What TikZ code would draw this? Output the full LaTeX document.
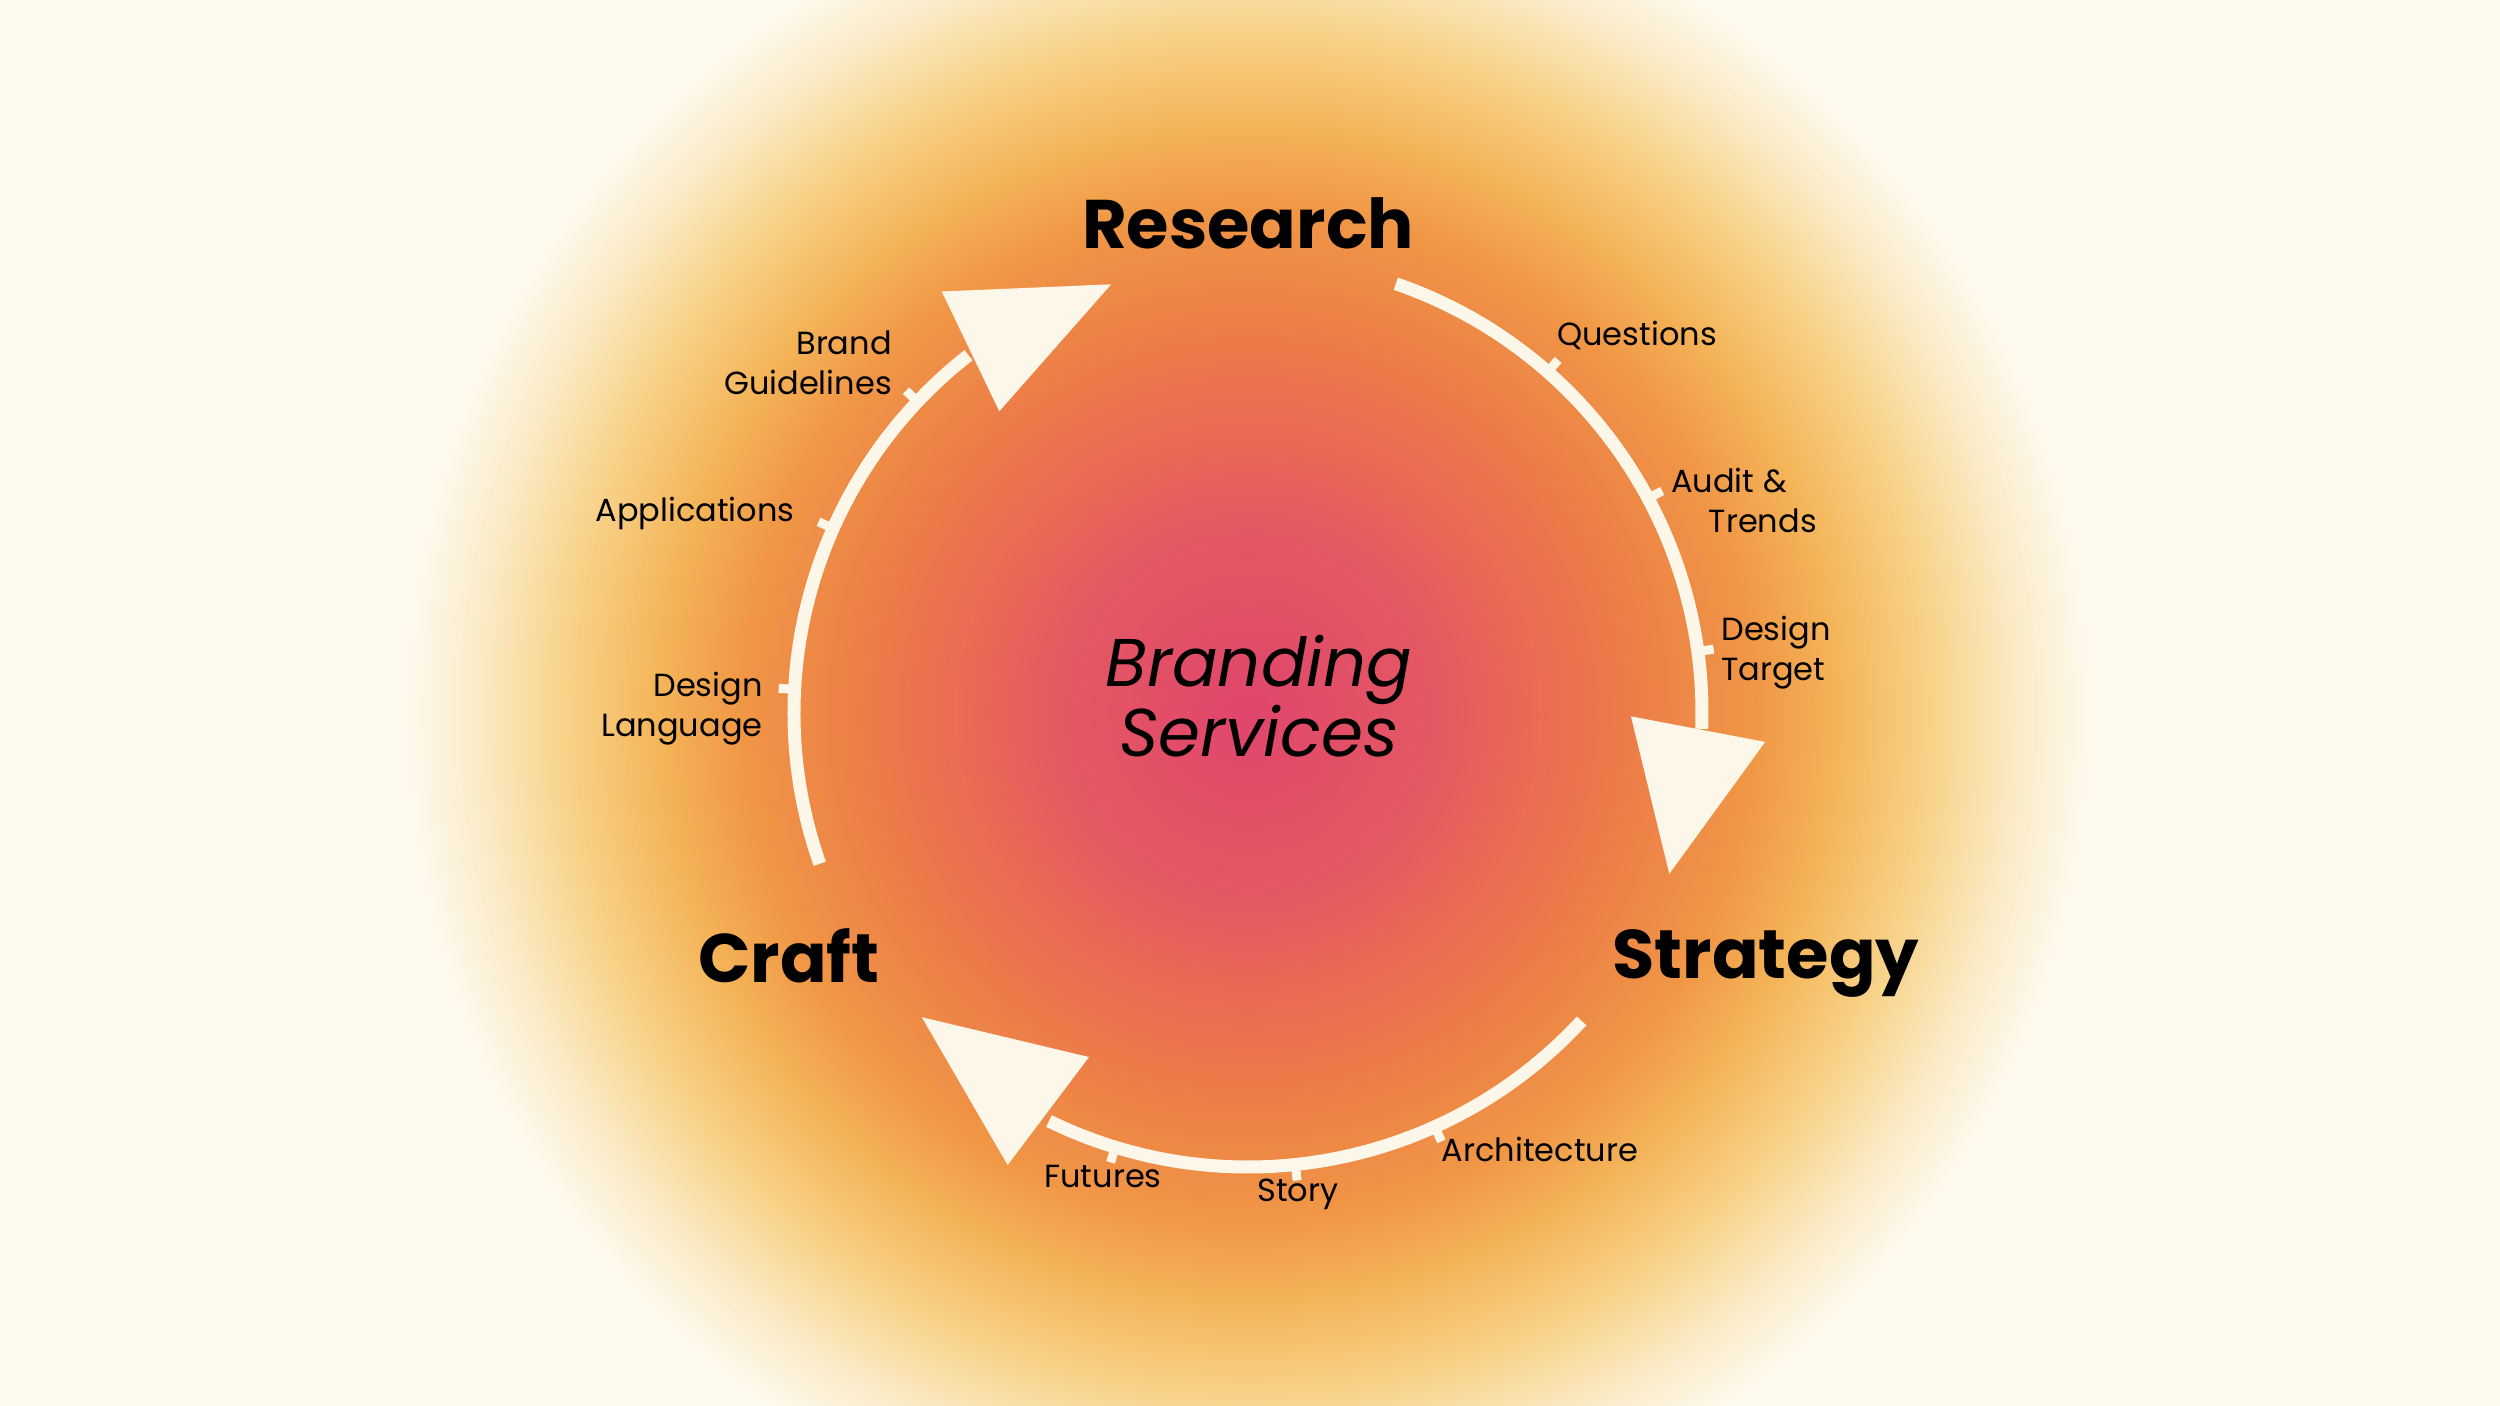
\documentclass[tikz,border=0pt]{standalone}
\usepackage{fontspec}
\setmainfont{Poppins}[BoldFont={Poppins Bold},ItalicFont={Poppins Italic}]
\definecolor{bg}{HTML}{FDF9EC}
\definecolor{cream}{HTML}{FCF7E8}
\definecolor{g0}{HTML}{E0466C}
\definecolor{g1}{HTML}{E45862}
\definecolor{g2}{HTML}{EC7A48}
\definecolor{g3}{HTML}{F09645}
\definecolor{g4}{HTML}{F4B458}
\definecolor{g5}{HTML}{F8D48C}
\definecolor{g6}{HTML}{FBEBC8}
\pgfdeclareradialshading{glow}{\pgfpoint{0bp}{0bp}}{color(0bp)=(g0); color(5.5bp)=(g1); color(11bp)=(g2); color(15bp)=(g3); color(17.5bp)=(g4); color(20.5bp)=(g5); color(23bp)=(g6); color(25bp)=(bg); color(50bp)=(bg)}
\begin{document}
\begin{tikzpicture}[x=0.4pt,y=0.4pt,
  shaft/.style={draw=cream,line width=5.2pt},
  tick/.style={draw=cream,line width=3.6pt},
  head/.style={fill=cream},
  big/.style={font=\fontsize{27.5}{30}\selectfont\bfseries},
  lab/.style={font=\fontsize{12.8}{16}\selectfont,align=#1},
  lab/.default=center]
\fill[bg] (-1248,-693) rectangle (1252,713);
\useasboundingbox (-1248,-693) rectangle (1252,713);
\shade[shading=glow] (0,0) circle (840);
% arcs
\draw[shaft] (71:454) arc (71:-2:454);
\draw[shaft] (-42.7:454) arc (-42.7:-116:454);
\draw[shaft] (199.4:454) arc (199.4:128:454);
% arrowheads
\coordinate (a1a) at (-0.5:383); \coordinate (a1b) at (-3.2:518); \coordinate (a1t) at (-20.9:451);
\coordinate (a2a) at (-114.8:379); \coordinate (a2b) at (-118:512); \coordinate (a2t) at (-137:446);
\coordinate (a3a) at (129.5:391); \coordinate (a3b) at (126:521); \coordinate (a3t) at (107.7:450);
\fill[head] (a1a) -- (a1b) -- (a1t) -- cycle;
\fill[head] (a2a) -- (a2b) -- (a2t) -- cycle;
\fill[head] (a3a) -- (a3b) -- (a3t) -- cycle;
% ticks
\foreach \a/\n in {48.7/t1,28.2/t2,7.8/t3,-65.7/t4,-84/t5,-107/t6,177/t7,156/t8,136.7/t9}{
  \coordinate (\n i) at (\a:450); \coordinate (\n o) at (\a:470);
  \draw[tick] (\n i) -- (\n o);}
% titles
\node[big] (research) at (0,490) {Research};
\node[big] (strategy) at (518,-250) {Strategy};
\node[big] (craft) at (-459,-243) {Craft};
\node[font=\fontsize{27}{30}\selectfont\itshape,align=center] (brand) at (11,17) {Branding\\[-2pt]Services};
% labels
\node[lab] (q) at (389,378) {Questions};
\node[lab=left] (au) at (496,213) {Audit \&\\\hspace*{15pt}Trends};
\node[lab=left] (dt) at (528,60) {Design\\Target};
\node[lab] (ar) at (292,-436) {Architecture};
\node[lab] (st) at (50,-481) {Story};
\node[lab] (fu) at (-145,-463) {Futures};
\node[lab=right] (dl) at (-566,4) {Design\\Language};
\node[lab] (ap) at (-553,200) {Applications};
\node[lab=right] (bg2) at (-440,350) {Brand\\Guidelines};
\end{tikzpicture}
\end{document}
